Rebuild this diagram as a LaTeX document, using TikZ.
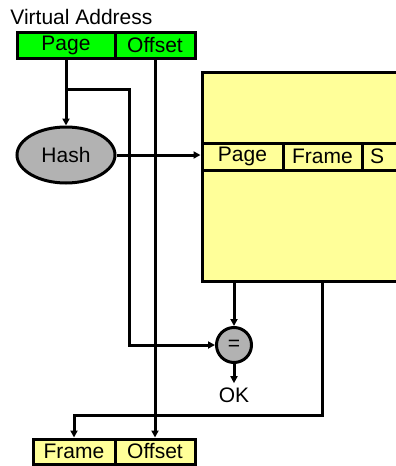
\documentclass[tikz,border=0pt]{standalone}
\usepackage{fontspec}
\setmainfont{Liberation Sans}
\usetikzlibrary{shapes, arrows.meta, positioning, calc}
\definecolor{addrgreen}{HTML}{00FF00}
\definecolor{tableyellow}{HTML}{FFFF99}
\definecolor{hashgray}{HTML}{B2B2B2}

\begin{document}
\begin{tikzpicture}[
    x=0.5pt, y=-0.5pt,
    font=\fontsize{10.5}{12}\selectfont,
    cell/.style={
        draw,
        line width=1.5pt,
        inner sep=0pt,
        minimum height=13pt
    },
    hashnode/.style={
        ellipse,
        draw,
        line width=1.5pt,
        fill=hashgray,
        minimum width=49pt,
        minimum height=28pt
    },
    cmpnode/.style={
        circle,
        draw,
        line width=1.5pt,
        fill=hashgray,
        inner sep=0pt,
        minimum size=17.5pt
    },
    arrow/.style={
        -{Triangle[length=3.5pt, width=3.5pt]},
        line width=1.5pt
    },
    wire/.style={
        line width=1.5pt
    }
]
\useasboundingbox (0,0) rectangle (396,466);

% Virtual address
\node[anchor=base west, inner sep=0pt] (vtitle) at (10,25) {Virtual Address};
\node[cell, fill=addrgreen, minimum width=49pt] (vpage) at (66,45) {Page};
\node[cell, fill=addrgreen, minimum width=40pt] (vofs) at (155,45) {Offset};

% Hashed page table
\node[cell, fill=tableyellow, minimum width=104pt, minimum height=104.5pt] (tbl) at (306,176.5) {};
\node[cell, fill=tableyellow, minimum width=40.5pt, minimum height=13.5pt] (tpage) at (242.5,156.5) {Page};
\node[cell, fill=tableyellow, minimum width=39.5pt, minimum height=13.5pt] (tframe) at (322.5,156.5) {Frame};
\node[cell, fill=tableyellow, minimum width=24pt, minimum height=13.5pt, text width=20pt, align=left] (tstat) at (386,156.5) {\hspace*{2pt}S};

% Hash and compare
\node[hashnode] (hash) at (66,155) {Hash};
\node[cmpnode] (cmp) at (234,345) {=};
\node[inner sep=0pt] (ok) at (234,395) {OK};

% Physical address
\node[cell, fill=tableyellow, minimum width=41pt, minimum height=12.5pt] (pframe) at (74,451.5) {Frame};
\node[cell, fill=tableyellow, minimum width=40pt, minimum height=12.5pt] (pofs) at (155,451.5) {Offset};

\coordinate (split) at (66,89);
\coordinate (pagecol) at (129,89);
\coordinate (frameout) at (322,415);

% Connectors
\draw[arrow] (vpage.south) -- (hash.north);
\draw[arrow] (split) -- (pagecol) |- (cmp.west);
\draw[arrow] (vofs.south) -- (pofs.north);
\draw[arrow] (hash.east) -- (hash.east -| tbl.west);
\draw[arrow] (cmp.north |- tbl.south) -- (cmp.north);
\draw[arrow] (cmp.south) -- ([yshift=2pt]ok.north);
\draw[arrow] (frameout |- tbl.south) -- (frameout) -| (pframe.north);

\end{tikzpicture}
\end{document}
